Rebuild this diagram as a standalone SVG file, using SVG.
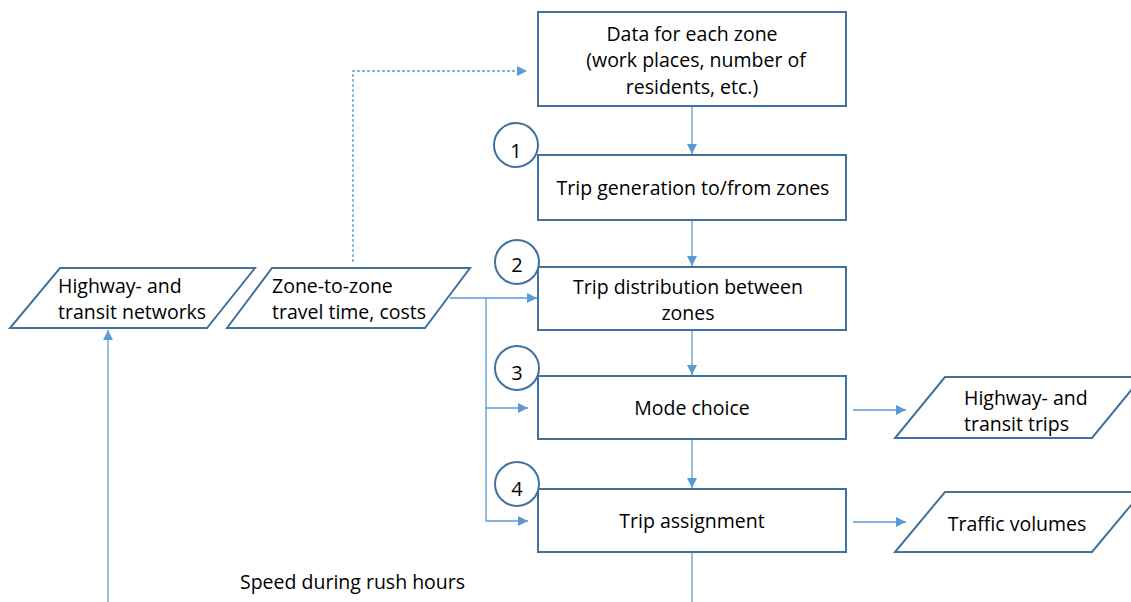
<svg xmlns="http://www.w3.org/2000/svg" width="1131" height="602" viewBox="0 0 1131 602">
<style>
.box{fill:#fff;stroke:#41719C;stroke-width:2}
.t{font-family:"Open Sans","Liberation Sans",Arial,sans-serif;font-size:19.5px;fill:#000}
.n{font-size:20px}
.c{text-anchor:middle}
.ln{fill:none;stroke:#5B9BD5;stroke-width:1.3}
</style>
<defs>
<marker id="ah" viewBox="0 0 10 10" refX="10" refY="5" markerWidth="10" markerHeight="10" markerUnits="userSpaceOnUse" orient="auto">
<path d="M0,0 L10,5 L0,10 Z" fill="#5B9BD5"/>
</marker>
</defs>
<rect width="1131" height="602" fill="#fff"/>
<g id="connectors">
<line class="ln" x1="692" y1="106" x2="692" y2="154" marker-end="url(#ah)"/>
<line class="ln" x1="692" y1="220" x2="692" y2="266" marker-end="url(#ah)"/>
<line class="ln" x1="692" y1="330" x2="692" y2="375" marker-end="url(#ah)"/>
<line class="ln" x1="692" y1="439" x2="692" y2="488" marker-end="url(#ah)"/>
<line class="ln" x1="692" y1="552" x2="692" y2="602"/>
<line class="ln" x1="450" y1="298" x2="537" y2="298" marker-end="url(#ah)"/>
<polyline class="ln" points="486,298 486,521 528,521" marker-end="url(#ah)"/>
<line class="ln" x1="486" y1="408" x2="528" y2="408" marker-end="url(#ah)"/>
<polyline class="ln" points="353,262 353,71 527,71" stroke-dasharray="3,2" stroke-width="1" marker-end="url(#ah)"/>
<line class="ln" x1="108" y1="602" x2="108" y2="330" marker-end="url(#ah)"/>
<line class="ln" x1="853" y1="410" x2="906" y2="410" marker-end="url(#ah)"/>
<line class="ln" x1="853" y1="522" x2="906" y2="522" marker-end="url(#ah)"/>
</g>
<g id="data">
<rect class="box" x="538" y="12" width="308" height="94"/>
<text class="t c" x="692" y="41">Data for each zone</text>
<text class="t c" x="696" y="67">(work places, number of</text>
<text class="t c" x="692" y="94">residents, etc.)</text>
</g>
<g id="step1">
<rect class="box" x="538" y="155" width="308" height="65"/>
<text class="t c" x="693" y="195">Trip generation to/from zones</text>
</g>
<g id="step2">
<rect class="box" x="538" y="267" width="308" height="63"/>
<text class="t c" x="688" y="294">Trip distribution between</text>
<text class="t c" x="688" y="320">zones</text>
</g>
<g id="step3">
<rect class="box" x="538" y="376" width="308" height="63"/>
<text class="t c" x="692" y="415">Mode choice</text>
</g>
<g id="step4">
<rect class="box" x="538" y="489" width="308" height="63"/>
<text class="t c" x="692" y="528">Trip assignment</text>
</g>
<g id="n1"><circle class="box" cx="516" cy="145" r="22"/><text class="t n c" x="516" y="158">1</text></g>
<g id="n2"><circle class="box" cx="517" cy="262" r="22"/><text class="t n c" x="517" y="272">2</text></g>
<g id="n3"><circle class="box" cx="517" cy="368" r="22"/><text class="t n c" x="517" y="380">3</text></g>
<g id="n4"><circle class="box" cx="517" cy="484" r="22"/><text class="t n c" x="517" y="496">4</text></g>
<g id="networks">
<polygon class="box" points="60,268 255,268 207,328 10,328"/>
<text class="t" x="58" y="293">Highway- and</text>
<text class="t" x="58" y="319">transit networks</text>
</g>
<g id="traveltime">
<polygon class="box" points="272,268 470,268 425,328 227,328"/>
<text class="t" x="272" y="293">Zone-to-zone</text>
<text class="t" x="272" y="319">travel time, costs</text>
</g>
<g id="trips">
<polygon class="box" points="945,377 1142,377 1092,438 895,438"/>
<text class="t" x="964" y="405">Highway- and</text>
<text class="t" x="964" y="431">transit trips</text>
</g>
<g id="volumes">
<polygon class="box" points="945,492 1142,492 1092,552 895,552"/>
<text class="t c" x="1017" y="531">Traffic volumes</text>
</g>
<text class="t" x="240" y="589">Speed during rush hours</text>
</svg>
